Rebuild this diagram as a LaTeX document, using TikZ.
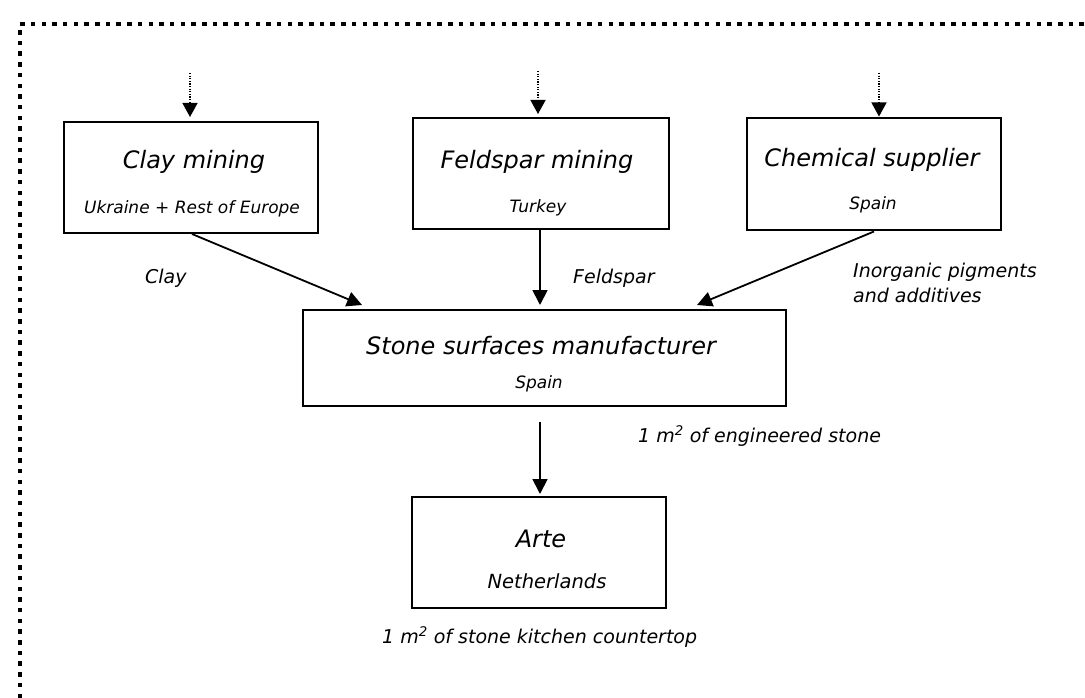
\documentclass[tikz,border=0pt]{standalone}
\usepackage{fontspec}
\setmainfont{DejaVu Sans}
\usetikzlibrary{arrows.meta,calc}
\tikzset{
  box/.style={draw=black, line width=2pt, rectangle, inner sep=0pt},
  ttl/.style={anchor=base, inner sep=0pt, font=\fontsize{24}{28}\selectfont\itshape},
  sub/.style={anchor=base, inner sep=0pt, font=\fontsize{17}{20}\selectfont\itshape},
  lbl/.style={anchor=base west, inner sep=0pt, font=\fontsize{19}{25}\selectfont\itshape, align=left},
  arr/.style={draw=black, line width=1.8pt, -{Triangle[length=15pt,width=15pt]}},
  dotarr/.style={draw=black, line width=1.3pt, dash pattern=on 1.3pt off 1.3pt, -{Triangle[length=14pt,width=15pt]}},
  frame/.style={draw=black, line width=4.5pt, dash pattern=on 4.5pt off 6.2pt}
}
\begin{document}
\begin{tikzpicture}[x=1pt,y=-1pt]
\useasboundingbox (0,0) rectangle (1085,698);
\fill[white] (0,0) rectangle (1085,698);
% frame
\draw[frame] (20,698) -- (20,24) -- (1085,24);
% boxes
\node[box, minimum width=254pt, minimum height=111pt] (clay) at (191,177.5) {};
\node[box, minimum width=256pt, minimum height=111pt] (feld) at (541,173.5) {};
\node[box, minimum width=254pt, minimum height=111pt] (chem) at (874,174) {};
\node[box, minimum width=483pt, minimum height=96pt] (mfr) at (544.5,358) {};
\node[box, minimum width=254pt, minimum height=111pt] (arte) at (539,552.5) {};
% texts
\node[ttl] (clayt) at (194,168) {Clay mining};
\node[sub] (clays) at (192,214) {Ukraine + Rest of Europe};
\node[ttl] (feldt) at (537,168) {Feldspar mining};
\node[sub] (felds) at (538,212) {Turkey};
\node[ttl] (chemt) at (872,167) {Chemical supplier};
\node[sub] (chems) at (873,210) {Spain};
\node[ttl] (mfrt) at (541,354) {Stone surfaces manufacturer};
\node[sub] (mfrs) at (539,388) {Spain};
\node[ttl] (artet) at (541,547) {Arte};
\node[sub, font=\fontsize{19.5}{22}\selectfont\itshape] (artes) at (547,588) {Netherlands};
% labels
\node[lbl] (lclay) at (145,283) {Clay};
\node[lbl] (lfeld) at (573,283) {Feldspar};
\node[lbl] (lchem) at (853,302) {Inorganic pigments\\and additives};
\node[lbl] (lmfr) at (638,442) {1 m\textsuperscript{2} of engineered stone};
\node[lbl] (larte) at (382,643) {1 m\textsuperscript{2} of stone kitchen countertop};
% inputs
\coordinate (in1) at (190,73);
\coordinate (in2) at (538,71);
\coordinate (in3) at (879,73);
\draw[dotarr] (in1) -- ($(clay.north)+(-1,-4)$);
\draw[dotarr] (in2) -- ($(feld.north)+(-3,-3)$);
\draw[dotarr] (in3) -- ($(chem.north)+(5,-1)$);
% flows
\draw[arr] ($(clay.south)+(1,0)$) -- ($(mfr.north)+(-182.5,-4)$);
\draw[arr] ($(feld.south)+(-1,0)$) -- ($(mfr.north)+(-4.5,-4)$);
\draw[arr] ($(chem.south)+(0,1)$) -- ($(mfr.north)+(152.5,-4)$);
\draw[arr] ($(mfr.south)+(-4.5,15)$) -- ($(arte.north)+(1,-2)$);
\end{tikzpicture}
\end{document}
